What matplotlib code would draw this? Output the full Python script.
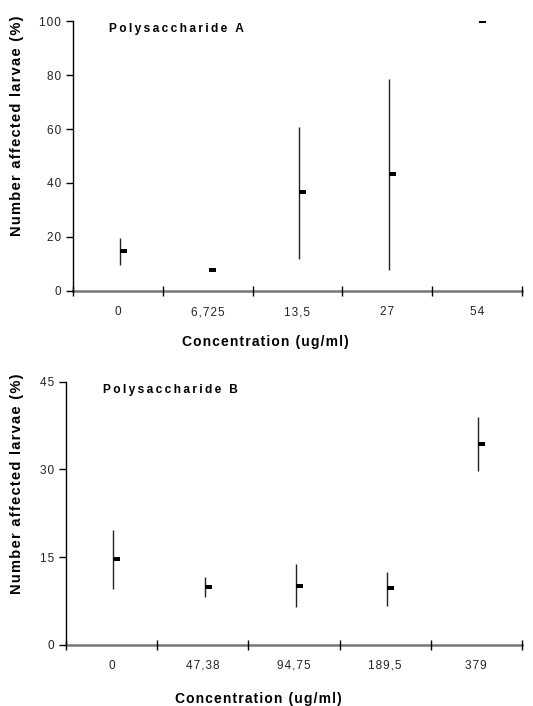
import matplotlib.pyplot as plt
import numpy as np
from matplotlib.path import Path

plt.rcParams['font.family'] = ['Liberation Sans', 'DejaVu Sans']

# Polysaccharide A
labels_a = ["0", "6,725", "13,5", "27", "54"]
mean_a = [14.6, 7.9, 36.6, 43.3, 100]
low_a = [9.5, 7.9, 12.0, 7.9, 100]
high_a = [19.5, 7.9, 60.8, 78.6, 100]

# Polysaccharide B
labels_b = ["0", "47,38", "94,75", "189,5", "379"]
mean_b = [14.6, 9.9, 10.1, 9.7, 34.3]
low_b = [9.6, 8.1, 6.4, 6.6, 29.7]
high_b = [19.6, 11.6, 13.8, 12.4, 39.0]

# little dash sitting to the right of the error line
dash = Path([(0, -0.3), (1, -0.3), (1, 0.3), (0, 0.3), (0, -0.3)])


def spaced(s, sep='\u200a'):
    # the original uses wide letter spacing
    return sep.join(s)


def panel(ax, labels, mean, low, high, ymax, yticks, title, ylab_xy, xlab_xy):
    x = np.arange(len(labels)) + 0.02
    ax.vlines(x, low, high, color='#222222', lw=1)
    ax.plot(x, mean, ls='none', marker=dash, ms=10, color='black', mec='black', mew=0)
    ax.set_xlim(-0.5, len(labels) - 0.5)
    ax.set_ylim(0, ymax)
    ax.set_yticks(yticks)
    ax.set_yticklabels([spaced(str(t)) for t in yticks])
    ax.set_xticks(np.arange(len(labels)))
    ax.set_xticklabels([spaced(l) for l in labels])
    ax.set_xticks(np.arange(len(labels) + 1) - 0.5, minor=True)
    ax.tick_params(axis='x', which='major', length=0, pad=11, labelsize=8.5, colors='#222222')
    ax.tick_params(axis='x', which='minor', direction='inout', length=7, width=1, color='black')
    ax.tick_params(axis='y', direction='out', length=5, width=1, labelsize=8.5,
                   color='black', labelcolor='#222222')
    for s in ['top', 'right']:
        ax.spines[s].set_visible(False)
    ax.spines['left'].set_linewidth(1)
    ax.spines['left'].set_color('black')
    ax.spines['bottom'].set_linewidth(1.8)
    ax.spines['bottom'].set_color('#777777')
    ax.spines['bottom'].set_zorder(1)
    ax.set_ylabel(spaced("Number affected larvae (%)"), fontsize=10.5, fontweight='bold')
    ax.yaxis.set_label_coords(*ylab_xy)
    ax.set_xlabel(spaced("Concentration (ug/ml)"), fontsize=10, fontweight='bold')
    ax.xaxis.set_label_coords(*xlab_xy)
    ax.text(0.08, 0.97, spaced(title, '\u2009'), transform=ax.transAxes, fontsize=8.6,
            fontweight='bold', va='center', ha='left')


fig = plt.figure(figsize=(5.33, 7.06), dpi=100)
ax1 = fig.add_axes([0.137, 0.588, 0.842, 0.382])
ax2 = fig.add_axes([0.124, 0.087, 0.855, 0.372])

panel(ax1, labels_a, mean_a, low_a, high_a, 100, [0, 20, 40, 60, 80, 100], "Polysaccharide A",
      (-0.109, 0.613), (0.428, -0.164))
panel(ax2, labels_b, mean_b, low_b, high_b, 45, [0, 15, 30, 45], "Polysaccharide B",
      (-0.092, 0.611), (0.421, -0.179))

fig.savefig("out.png", dpi=100)
